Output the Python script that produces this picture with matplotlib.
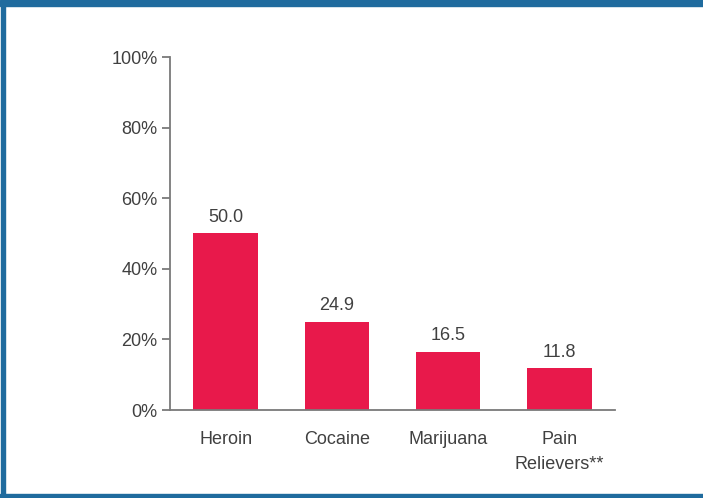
import matplotlib.pyplot as plt
from matplotlib.patches import Rectangle

categories = ["Heroin", "Cocaine", "Marijuana", "Pain\nRelievers**"]
values = [50.0, 24.9, 16.5, 11.8]
yticks = [0, 20, 40, 60, 80, 100]

BAR = "#e8194b"
TEXT = "#404040"
AXIS = "#7a7a7a"
FRAME = "#1f6b9e"

plt.rcParams.update({
    "font.family": ["Liberation Sans", "DejaVu Sans"],
    "font.size": 13,
})

W, H = 703, 498
fig = plt.figure(figsize=(W / 100, H / 100), dpi=100)
ax = fig.add_axes([170 / W, 88 / H, 445 / W, 353 / H])

x = list(range(len(categories)))
ax.bar(x, values, width=0.58, color=BAR)
for xi, v in zip(x, values):
    ax.text(xi, v + 2.2, f"{v:.1f}", ha="center", va="bottom", color=TEXT, fontsize=13)

ax.set_xlim(-0.5, 3.5)
ax.set_ylim(0, 100)
ax.set_yticks(yticks)
ax.set_yticklabels([f"{t}%" for t in yticks])
ax.set_xticks(x)
ax.set_xticklabels(categories, linespacing=1.62, va="top")

for s in ("top", "right"):
    ax.spines[s].set_visible(False)
for s in ("left", "bottom"):
    ax.spines[s].set_color(AXIS)
    ax.spines[s].set_linewidth(1.3)
ax.tick_params(axis="y", length=6, width=1.3, color=AXIS, labelcolor=TEXT, pad=3)
ax.tick_params(axis="x", length=0, labelcolor=TEXT, pad=15)

# blue frame around the figure (top, left, bottom)
fig.patches.append(Rectangle((0, 1 - 6 / H), 1, 6 / H, transform=fig.transFigure, color=FRAME, zorder=10))
fig.patches.append(Rectangle((1 / W, 0), 4 / W, 1, transform=fig.transFigure, color=FRAME, zorder=10))
fig.patches.append(Rectangle((0, 0), 1, 4 / H, transform=fig.transFigure, color=FRAME, zorder=10))

fig.savefig("out.png", dpi=100)
